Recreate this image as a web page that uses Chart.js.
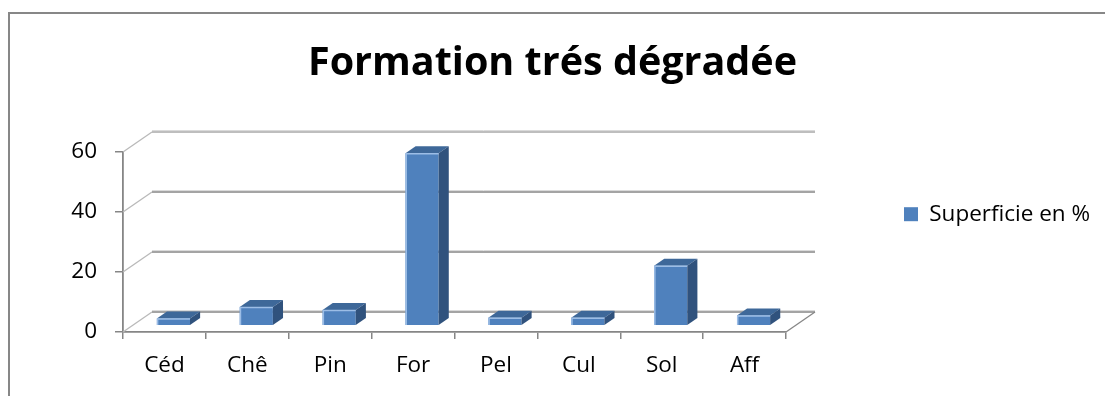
<!DOCTYPE html>
<html>
<head>
<meta charset="utf-8">
<script src="https://cdn.jsdelivr.net/npm/chart.js@4.4.1/dist/chart.umd.min.js"></script>
<style>
  html, body { margin: 0; padding: 0; background: #fff; }
  canvas { display: block; }
</style>
</head>
<body>
<canvas id="chart" width="1105" height="396"></canvas>
<script>
// Land cover shares for the "very degraded" formation
const categories = ['Céd', 'Chê', 'Pin', 'For', 'Pel', 'Cul', 'Sol', 'Aff'];
const superficie = [2.4, 6.3, 5.3, 57.5, 2.7, 2.7, 20, 3.4];
const seriesName = 'Superficie en %';
const chartTitle = 'Formation trés dégradée';
const yTicks = [0, 20, 40, 60];

const W = 1105, H = 396;
const FONT = '"Open Sans"';
const LABEL_SIZE = 22.5;
const TITLE_SIZE = 39.5;

// 3D look: depth of the floor / back wall, and the slab the bars occupy in it
const DEPTH = { dx: 29, dy: -20 };
const BAR_FRONT = 0.31;
const BAR_DEPTH = 0.35;

// legend placement: swatch at x = 904, chart area ends at x = 786
const PLOT_LEFT = 123, PLOT_RIGHT = 786, PLOT_TOP = 152, PLOT_BOTTOM = 332;
const SWATCH_X = 904, BOX = 14;
const LEGEND_EXTRA = 10; // Chart.js adds 10px to the width of a side legend
const measure = document.createElement('canvas').getContext('2d');
measure.font = LABEL_SIZE + 'px ' + FONT;
const legendItemW = BOX + LABEL_SIZE / 2 + measure.measureText(seriesName).width;
const sidePad = Math.max(0, W - SWATCH_X - legendItemW - LEGEND_EXTRA);
const legendGap = SWATCH_X - PLOT_RIGHT;

const box3d = {
  id: 'box3d',
  beforeDraw(chart) {
    const ctx = chart.ctx;
    ctx.save();
    ctx.fillStyle = '#ffffff';
    ctx.fillRect(0, 0, W, H);
    ctx.strokeStyle = '#878787';
    ctx.lineWidth = 2;
    ctx.strokeRect(9, 13, W + 40, H + 40);
    ctx.restore();
  },
  beforeDatasetsDraw(chart) {
    const { ctx, chartArea: a, scales: { y } } = chart;
    ctx.save();
    y.ticks.forEach(t => {
      const py = y.getPixelForValue(t.value);
      // left wall
      ctx.strokeStyle = '#b9b9b9';
      ctx.lineWidth = 1.3;
      ctx.beginPath();
      ctx.moveTo(a.left, py);
      ctx.lineTo(a.left + DEPTH.dx, py + DEPTH.dy);
      ctx.stroke();
      // back wall gridline with a soft highlight above it
      ctx.strokeStyle = '#dadada';
      ctx.lineWidth = 1;
      ctx.beginPath();
      ctx.moveTo(a.left + DEPTH.dx, py + DEPTH.dy - 1.5);
      ctx.lineTo(a.right + DEPTH.dx, py + DEPTH.dy - 1.5);
      ctx.stroke();
      ctx.strokeStyle = t.value === 60 ? '#a9a9a9' : '#868686';
      ctx.lineWidth = 1.6;
      ctx.beginPath();
      ctx.moveTo(a.left + DEPTH.dx, py + DEPTH.dy);
      ctx.lineTo(a.right + DEPTH.dx, py + DEPTH.dy);
      ctx.stroke();
    });
    // right edge of the floor
    ctx.strokeStyle = '#868686';
    ctx.lineWidth = 1.3;
    ctx.beginPath();
    ctx.moveTo(a.right, a.bottom);
    ctx.lineTo(a.right + DEPTH.dx, a.bottom + DEPTH.dy);
    ctx.stroke();
    ctx.restore();
  },
  beforeDatasetDraw(chart) {
    chart.ctx.save();
    chart.ctx.translate(DEPTH.dx * BAR_FRONT, DEPTH.dy * BAR_FRONT);
  },
  afterDatasetDraw(chart, args) {
    const ctx = chart.ctx;
    const ddx = DEPTH.dx * BAR_DEPTH, ddy = DEPTH.dy * BAR_DEPTH;
    args.meta.data.forEach(bar => {
      const { x, y, base, width } = bar.getProps(['x', 'y', 'base', 'width'], true);
      const l = x - width / 2, r = x + width / 2;
      // top face
      ctx.fillStyle = '#3e6899';
      ctx.beginPath();
      ctx.moveTo(l, y);
      ctx.lineTo(r, y);
      ctx.lineTo(r + ddx, y + ddy);
      ctx.lineTo(l + ddx, y + ddy);
      ctx.closePath();
      ctx.fill();
      // side face
      ctx.fillStyle = '#30527d';
      ctx.beginPath();
      ctx.moveTo(r, y);
      ctx.lineTo(r + ddx, y + ddy);
      ctx.lineTo(r + ddx, base + ddy);
      ctx.lineTo(r, base);
      ctx.closePath();
      ctx.fill();
      // light edges on the front face
      ctx.strokeStyle = '#9cbde6';
      ctx.lineWidth = 1.5;
      ctx.beginPath();
      ctx.moveTo(l + 0.75, base);
      ctx.lineTo(l + 0.75, y + 0.5);
      ctx.lineTo(r, y + 0.5);
      ctx.stroke();
    });
    ctx.restore();
  }
};

new Chart(document.getElementById('chart'), {
  type: 'bar',
  data: {
    labels: categories,
    datasets: [{
      label: seriesName,
      data: superficie,
      backgroundColor: '#4f81bd',
      borderWidth: 0,
      categoryPercentage: 0.4,
      barPercentage: 1,
      clip: false
    }]
  },
  options: {
    responsive: false,
    devicePixelRatio: 1,
    animation: false,
    events: [],
    layout: { padding: { top: 18, left: sidePad, right: sidePad, bottom: 0 } },
    font: { family: FONT },
    plugins: {
      title: {
        display: true,
        text: chartTitle,
        color: '#000',
        font: { family: FONT, size: TITLE_SIZE, weight: 'bold', lineHeight: 1.2 },
        padding: { top: 22, bottom: PLOT_TOP - 18 - 22 - TITLE_SIZE * 1.2 }
      },
      legend: {
        display: true,
        position: 'right',
        align: 'center',
        maxWidth: 600,
        title: { display: true, text: '', padding: 0, font: { size: 12 } },
        labels: {
          boxWidth: BOX,
          boxHeight: BOX,
          padding: legendGap,
          color: '#000',
          font: { family: FONT, size: LABEL_SIZE }
        }
      },
      tooltip: { enabled: false }
    },
    scales: {
      x: {
        offset: true,
        grid: { display: true, offset: true, drawOnChartArea: false, drawTicks: true, tickLength: 7, color: '#868686', lineWidth: 1.5 },
        border: { display: true, color: '#868686', width: 1.8 },
        ticks: { color: '#000', padding: 13, font: { family: FONT, size: LABEL_SIZE }, maxRotation: 0 },
        afterFit(scale) { scale.height = H - PLOT_BOTTOM; }
      },
      y: {
        min: 0,
        max: 60,
        afterBuildTicks(scale) { scale.ticks = yTicks.map(v => ({ value: v })); },
        grid: { display: true, drawOnChartArea: false, drawTicks: true, tickLength: 8, color: '#868686', lineWidth: 1.5 },
        border: { display: true, color: '#868686', width: 1.8 },
        ticks: { color: '#000', padding: 18, font: { family: FONT, size: LABEL_SIZE } },
        afterFit(scale) { scale.width = PLOT_LEFT - sidePad; }
      }
    }
  },
  plugins: [box3d]
});
</script>
</body>
</html>
